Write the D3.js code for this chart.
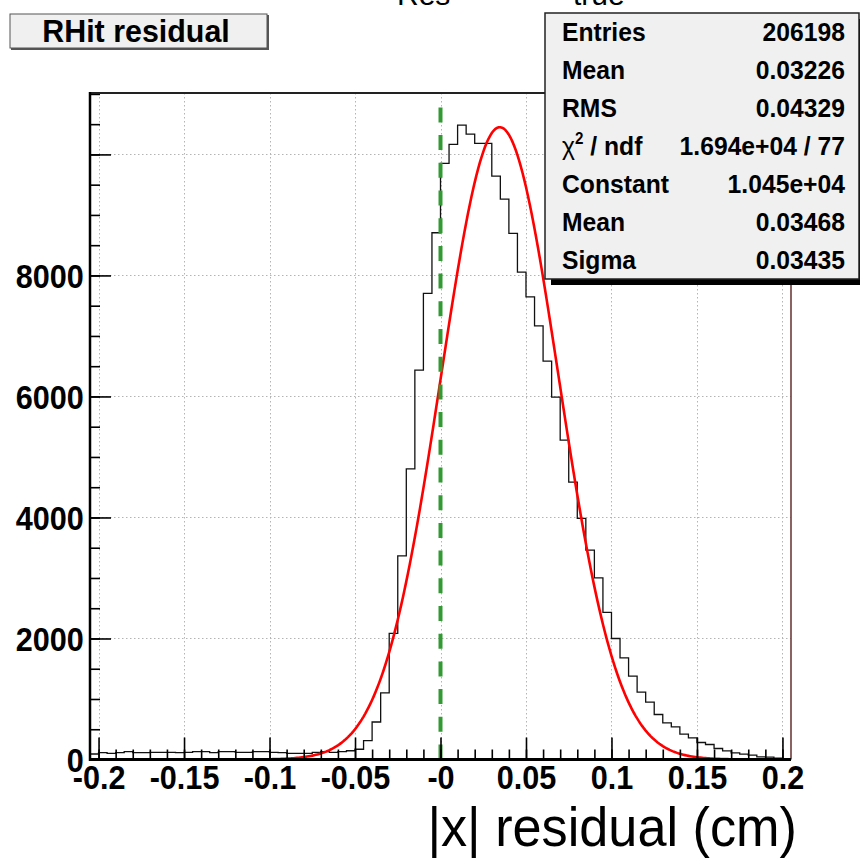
<!DOCTYPE html>
<html>
<head>
<meta charset="utf-8">
<script src="https://cdn.jsdelivr.net/npm/d3@7"></script>
<style>
  html, body { margin: 0; padding: 0; background: #fff; }
  svg { display: block; }
  text { font-family: "Liberation Sans", Arial, Helvetica, sans-serif; }
</style>
</head>
<body>
<svg id="chart" width="860" height="860"></svg>
<script>
// ---------------- data ----------------
const binLow = -0.205;
const binWidth = 0.005;
const binCounts = [
  91, 113, 102, 113, 129, 113, 113, 119, 119, 119,
  113, 119, 129, 129, 113, 129, 129, 119, 119, 129,
  129, 119, 113, 102, 102, 102, 119, 129, 119, 129,
  145, 169, 311, 620, 1101, 2083, 3365, 4804, 6435, 7703,
  8705, 9852, 10166, 10485, 10336, 10182, 10182, 9642, 9262, 8695,
  8055, 7647, 7167, 6584, 5989, 5278, 4584, 3984, 3460, 3002,
  2430, 2000, 1680, 1377, 1112, 947, 744, 605, 539, 418,
  357, 281, 248, 182, 142, 109, 88, 71, 43, 38,
  21, 5
];
const fitConstant = 1.045e4;
const fitMean = 0.03468;
const fitSigma = 0.03435;
const fitRange = [-0.2, 0.2];

const xDomain = [-0.205, 0.205];
const yDomain = [0, 11015];
const xMajorTicks = [-0.2, -0.15, -0.1, -0.05, 0, 0.05, 0.1, 0.15, 0.2];
const xTickLabels = ["-0.2", "-0.15", "-0.1", "-0.05", "-0", "0.05", "0.1", "0.15", "0.2"];
const xMinorTicks = d3.range(-20, 21).map(i => i / 100);
const yMajorTicks = [0, 2000, 4000, 6000, 8000, 10000];
const yTickLabels = ["0", "2000", "4000", "6000", "8000", ""];
const yMinorTicks = d3.range(0, 23).map(i => i * 500);
const zeroLine = { x: 0, y0: 0, y1: 10950 };

const histTitle = "RHit residual";
const pageTitleLeft = "Res";
const pageTitleRight = "true";
const xAxisTitle = "|x| residual (cm)";
const statLabels = ["Entries", "Mean", "RMS", "CHI", "Constant", "Mean", "Sigma"];
const statValues = ["206198", "0.03226", "0.04329", "1.694e+04 / 77", "1.045e+04", "0.03468", "0.03435"];

// ---------------- layout ----------------
const svg = d3.select("#chart");
const fL = 90, fR = 791, fT = 93, fB = 759.5;
const x = d3.scaleLinear().domain(xDomain).range([fL, fR]);
const y = d3.scaleLinear().domain(yDomain).range([fB, fT]);

svg.append("rect").attr("x", fL).attr("y", fT).attr("width", fR - fL).attr("height", fB - fT).attr("fill", "#fff");

// grid
const grid = svg.append("g").attr("stroke", "#b4b4b4").attr("stroke-width", 1).attr("stroke-dasharray", "1.5,2.5");
grid.selectAll("line.gx").data(xMajorTicks).join("line")
  .attr("x1", d => Math.round(x(d)) + 0.5).attr("x2", d => Math.round(x(d)) + 0.5)
  .attr("y1", fT).attr("y2", fB);
grid.selectAll("line.gy").data(yMajorTicks.filter(d => d > 0)).join("line")
  .attr("x1", fL).attr("x2", fR)
  .attr("y1", d => Math.round(y(d)) + 0.5).attr("y2", d => Math.round(y(d)) + 0.5);

// histogram
const pts = binCounts.map((c, i) => [binLow + i * binWidth, c]);
pts.push([binLow + binCounts.length * binWidth, binCounts[binCounts.length - 1]]);
const stepLine = d3.line().x(d => x(d[0])).y(d => y(d[1])).curve(d3.curveStepAfter);
svg.append("path").attr("d", stepLine(pts)).attr("fill", "none").attr("stroke", "#111").attr("stroke-width", 1.3);

// fit
const fitPts = d3.range(0, 401).map(i => {
  const xv = fitRange[0] + (fitRange[1] - fitRange[0]) * i / 400;
  return [xv, fitConstant * Math.exp(-0.5 * Math.pow((xv - fitMean) / fitSigma, 2))];
});
svg.append("path").attr("d", d3.line().x(d => x(d[0])).y(d => y(d[1]))(fitPts))
  .attr("fill", "none").attr("stroke", "#ff0000").attr("stroke-width", 2.6);

// green dashed line at 0
svg.append("line")
  .attr("x1", x(zeroLine.x)).attr("x2", x(zeroLine.x))
  .attr("y1", y(zeroLine.y0)).attr("y2", y(zeroLine.y1))
  .attr("stroke", "#339933").attr("stroke-width", 4).attr("stroke-dasharray", "15,12.7");

// axes
const fontAxis = 34, axisSX = 0.9;
const xMinor = svg.append("g").attr("transform", `translate(0,${fB})`)
  .call(d3.axisBottom(x).tickValues(xMinorTicks).tickSize(-10).tickFormat(""));
const xMajor = svg.append("g").attr("transform", `translate(0,${fB})`)
  .call(d3.axisBottom(x).tickValues(xMajorTicks).tickSize(-22).tickPadding(5)
    .tickFormat((d, i) => xTickLabels[i]));
const yMinor = svg.append("g").attr("transform", `translate(${fL},0)`)
  .call(d3.axisLeft(y).tickValues(yMinorTicks.filter(v => v <= yDomain[1])).tickSize(-10).tickFormat(""));
const yMajor = svg.append("g").attr("transform", `translate(${fL},0)`)
  .call(d3.axisLeft(y).tickValues(yMajorTicks).tickSize(-21).tickPadding(7)
    .tickFormat((d, i) => yTickLabels[i]));
[xMinor, xMajor, yMinor, yMajor].forEach(g => {
  g.select(".domain").remove();
  g.selectAll(".tick line").attr("stroke", "#000").attr("stroke-width", 1.6);
});
xMajor.selectAll(".tick text").attr("font-size", fontAxis).attr("font-weight", "bold").attr("fill", "#000")
  .attr("dy", "0.72em").attr("transform", `scale(${axisSX},1)`);
yMajor.selectAll(".tick text").attr("font-size", fontAxis).attr("font-weight", "bold").attr("fill", "#000")
  .attr("dy", "0.36em").attr("transform", `scale(${axisSX},1)`);

// frame
svg.append("line").attr("x1", fL).attr("x2", fR).attr("y1", fT).attr("y2", fT).attr("stroke", "#222").attr("stroke-width", 2);
svg.append("line").attr("x1", fR).attr("x2", fR).attr("y1", fT).attr("y2", fB).attr("stroke", "#6e3b3b").attr("stroke-width", 1.6);
svg.append("line").attr("x1", fL).attr("x2", fL).attr("y1", fT - 1).attr("y2", fB + 1.5).attr("stroke", "#000").attr("stroke-width", 2.5);
svg.append("line").attr("x1", fL).attr("x2", fR).attr("y1", fB).attr("y2", fB).attr("stroke", "#000").attr("stroke-width", 3);

// x axis title
svg.append("text").attr("transform", "translate(797,846) scale(0.95,1)").attr("text-anchor", "end")
  .attr("font-size", 55).attr("fill", "#000").text(xAxisTitle);

// page title (cut off at top, as in the original)
svg.append("text").attr("x", 397).attr("y", 5).attr("font-size", 30).attr("fill", "#000").text(pageTitleLeft);
svg.append("text").attr("x", 573).attr("y", 5).attr("font-size", 30).attr("fill", "#000").text(pageTitleRight);

// histogram title box
svg.append("rect").attr("x", 11).attr("y", 15).attr("width", 258).attr("height", 35).attr("fill", "#555");
svg.append("rect").attr("x", 10).attr("y", 14).attr("width", 257).attr("height", 34)
  .attr("fill", "#f0f0f0").attr("stroke", "#555").attr("stroke-width", 1);
svg.append("text").attr("transform", "translate(136,42) scale(0.95,1)").attr("text-anchor", "middle")
  .attr("font-size", 32).attr("font-weight", "bold").attr("fill", "#000").text(histTitle);

// stats box
const sbX = 545, sbY = 13, sbW = 314, sbH = 266;
svg.append("rect").attr("x", sbX + 6).attr("y", sbY + 6).attr("width", sbW).attr("height", sbH).attr("fill", "#000");
svg.append("rect").attr("x", sbX).attr("y", sbY).attr("width", sbW).attr("height", sbH)
  .attr("fill", "#f0f0f0").attr("stroke", "#222").attr("stroke-width", 1.5);
const rowH = sbH / statLabels.length;
const fontStat = 26, statSX = 0.95;
statLabels.forEach((lab, i) => {
  const cy = sbY + rowH * (i + 0.5);
  const t = svg.append("text").attr("transform", `translate(562,${cy + 9}) scale(${statSX},1)`)
    .attr("font-size", fontStat).attr("font-weight", "bold").attr("fill", "#000");
  if (lab === "CHI") {
    t.append("tspan").attr("font-weight", "normal").text("χ");
    t.append("tspan").attr("font-size", 16).attr("dy", -11).text("2");
    t.append("tspan").attr("dy", 11).text(" / ndf");
  } else {
    t.text(lab);
  }
  svg.append("text").attr("transform", `translate(845,${cy + 9}) scale(${statSX},1)`)
    .attr("text-anchor", "end").attr("font-size", fontStat)
    .attr("font-weight", "bold").attr("fill", "#000").text(statValues[i]);
});
</script>
</body>
</html>
